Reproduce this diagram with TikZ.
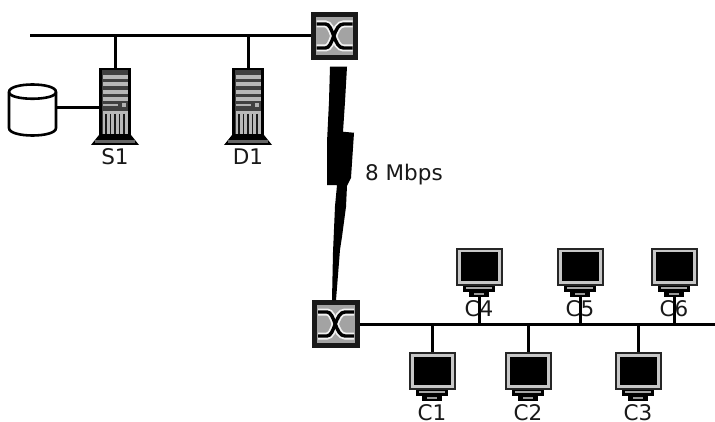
\documentclass[tikz,border=0pt]{standalone}
\usepackage{fontspec}
\setmainfont{DejaVu Sans}
\usetikzlibrary{calc}
\tikzset{
  x=1pt,y=-1pt,
  wire/.style={line width=3pt,black},
  lbl/.style={inner sep=0pt,font=\fontsize{21.5}{22}\selectfont,text=black!90},
  swbox/.style={draw=black!90,line width=5pt,fill=black!36,minimum width=42.5pt,minimum height=42.5pt,inner sep=0pt},
  srvbox/.style={draw=black,line width=2.5pt,fill=black!75,minimum width=29pt,minimum height=66pt,inner sep=0pt},
  monbox/.style={draw=black!85,line width=2pt,fill=black!22,minimum width=45pt,minimum height=36pt,inner sep=0pt},
  bolt/.style={fill=black,draw=none},
}
\newcommand{\swdetail}[1]{%
  \begin{scope}[shift={(#1)}]
    \foreach \w/\c in {7/black!5,3.4/black}{
      \draw[line width=\w pt,\c] (-18,-12) -- (-9,-12) .. controls (-1,-12) and (-1,12) .. (9,12) -- (18,12);
      \draw[line width=\w pt,\c] (-18,12) -- (-9,12) .. controls (-1,12) and (-1,-12) .. (9,-12) -- (18,-12);
    }
  \end{scope}}
\newcommand{\srvdetail}[1]{%
  \begin{scope}[shift={(#1)}]
    \fill[black] (-16,33) -- (16,33) -- (24,43) -- (-24,43) -- cycle;
    \fill[black!60] (-20,38) rectangle (20,41);
    \foreach \yy in {-27,-19.5,-12,-5}
      \fill[black!28] (-12.5,\yy) rectangle (12.5,\yy+4);
    \fill[black!30] (-12.5,2) rectangle (3,4);
    \fill[black!30] (7,1) rectangle (11,5);
    \fill[black!28] (-12.5,9) rectangle (12.5,32);
    \foreach \xx in {-9,-4.5,0,4.5,9}
      \draw[line width=1.6pt,black!90] (\xx,12) -- (\xx,32);
  \end{scope}}
\newcommand{\mondetail}[1]{%
  \begin{scope}[shift={(#1)}]
    \fill[black] (-18.5,-14.5) rectangle (18.5,13.5);
    \fill[black] (-16,18.5) rectangle (16,24.5);
    \fill[black!35] (-13,20) rectangle (13,22);
    \fill[black] (-10,24) rectangle (10,29.5);
    \fill[black!40] (-5,25.5) rectangle (5,27.5);
  \end{scope}}
\begin{document}
\begin{tikzpicture}
\useasboundingbox (0,0) rectangle (715,422);
\fill[white] (0,0) rectangle (715,422);
% nodes
\node[swbox] (swA) at (334.5,36) {};
\node[swbox] (swB) at (336,324) {};
\coordinate (busA) at (30,36);
\coordinate (busB) at (715,324);
\node[srvbox] (S1) at (115,102) {};
\node[srvbox] (D1) at (248,102) {};
\node[monbox] (C1) at (432,371) {};
\node[monbox] (C2) at (528,371) {};
\node[monbox] (C3) at (638,371) {};
\node[monbox] (C4) at (479,267) {};
\node[monbox] (C5) at (580,267) {};
\node[monbox] (C6) at (674,267) {};
% storage cylinder
\draw[line width=2.6pt,fill=white] (9,92) -- (9,128) .. controls (9,138) and (56,138) .. (56,128) -- (56,92) .. controls (56,82) and (9,82) .. (9,92) -- cycle;
\draw[line width=2.6pt] (9,92) .. controls (9,101) and (56,101) .. (56,92);
\coordinate (cyl) at (56,108);
% wires
\draw[wire] (busA) -- (swA.west);
\draw[wire] (swB.east) -- (busB);
\draw[wire] (S1.north |- busA) -- (S1.north);
\draw[wire] (D1.north |- busA) -- (D1.north);
\draw[wire] (cyl) -- (S1.west |- cyl);
\foreach \c in {C1,C2,C3}
  \draw[wire] (\c.north |- busB) -- (\c.north);
\foreach \c in {C4,C5,C6}
  \draw[wire] (\c.south |- busB) -- ($(\c.south)+(0,10)$);
% details
\foreach \c in {swA,swB} {\swdetail{\c}}
\foreach \c in {S1,D1} {\srvdetail{\c}}
\foreach \c in {C1,C2,C3,C4,C5,C6} {\mondetail{\c}}
% wide-area link
\path[bolt] (swA.south) ++(-4.5,7) -- ++(17,0) -- ++(-2,35) -- ++(-2,30) -- ++(11,1)
  -- ++(-1,15) -- ++(-2,30) -- ++(-4,8) -- ++(-1,21) -- ++(-4,30) -- ++(-2,13)
  -- (swB.north) -- ++(-4,0) -- ++(1,-48) -- ++(2,-46) -- ++(2,-21) -- ++(-10,0)
  -- ++(0,-43) -- ++(2,-41) -- cycle;
% labels
\node[lbl] (lS1) at (115,157) {S1};
\node[lbl] (lD1) at (248,157) {D1};
\node[lbl,anchor=west] (rate) at (365,175) {8 Mbps};
\node[lbl] (lC1) at (432,412.5) {C1};
\node[lbl] (lC2) at (528,412.5) {C2};
\node[lbl] (lC3) at (638,412.5) {C3};
\node[lbl] (lC4) at (479,309) {C4};
\node[lbl] (lC5) at (580,309) {C5};
\node[lbl] (lC6) at (674,309) {C6};
\end{tikzpicture}
\end{document}
